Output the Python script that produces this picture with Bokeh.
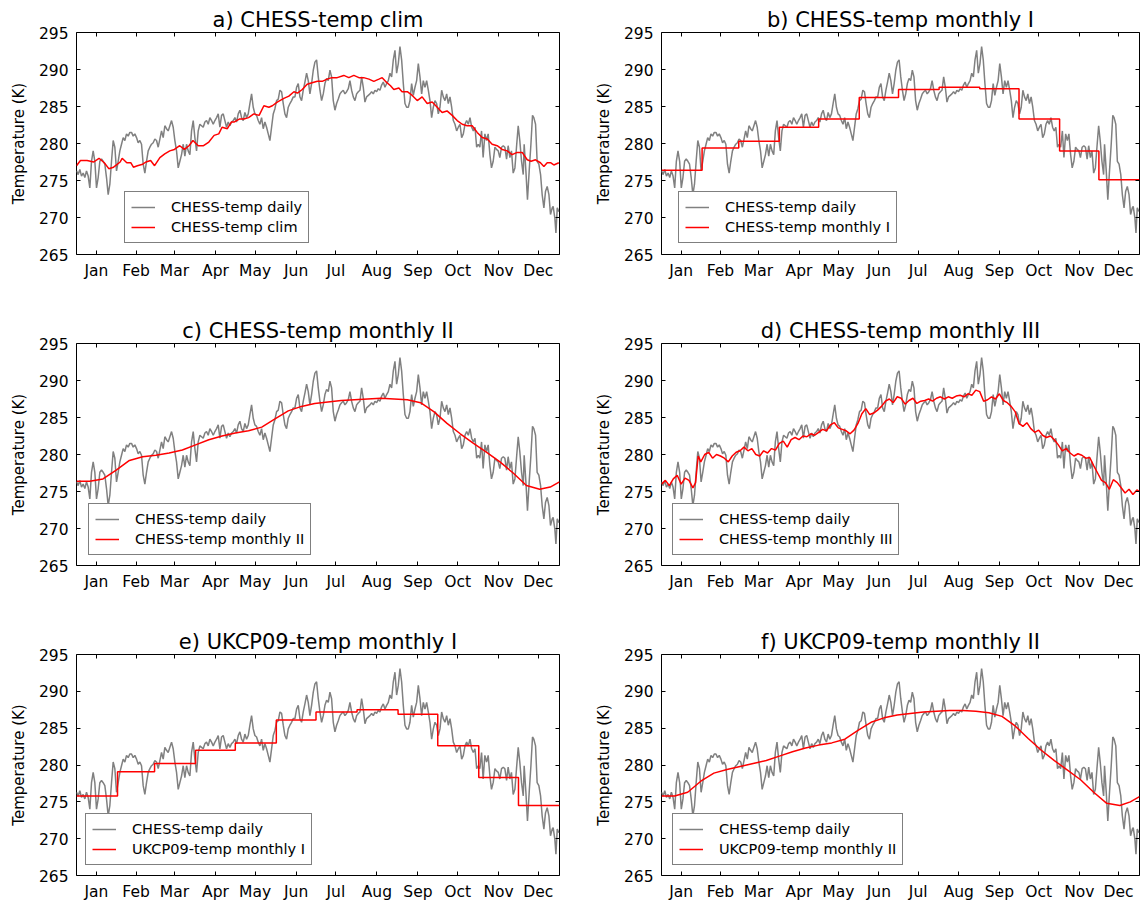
from bokeh.plotting import figure
from bokeh.layouts import column, row
from bokeh.models import Range1d, FixedTicker, LinearAxis, Legend, LegendItem
from bokeh.embed import file_html
from bokeh.resources import INLINE

FONT = "DejaVu Sans"

# ---------------- data ----------------
month_names = ["Jan", "Feb", "Mar", "Apr", "May", "Jun", "Jul", "Aug", "Sep", "Oct", "Nov", "Dec"]
month_ticks = [15, 45, 74, 105, 135, 166, 196, 227, 258, 288, 319, 349]
month_edges = [0, 31, 59, 90, 120, 151, 181, 212, 243, 273, 304, 334, 365]
y_ticks = [265, 270, 275, 280, 285, 290, 295]

# CHESS-temp daily, read every ~1.26 days from day 0 to ~301
READ_STEP_DAYS = 1.26
daily_temp_early = [
    276.3, 275.8, 276.5, 275.6, 276.0, 275.4, 276.3, 275.6, 274.0, 277.6, 279.0, 277.6,
    274.0, 275.4, 277.6, 277.9, 277.6, 277.2, 275.4, 273.1, 274.5, 277.6, 280.4, 279.5,
    276.3, 277.6, 279.0, 279.9, 280.8, 280.4, 281.3, 281.0, 281.5, 281.5, 281.0, 281.3,
    280.8, 280.1, 280.4, 279.9, 277.2, 276.0, 277.6, 279.0, 279.5, 279.9, 280.1, 280.6,
    280.4, 279.5, 280.6, 281.7, 280.8, 282.4, 282.0, 281.7, 282.4, 283.1, 282.2, 280.4,
    279.0, 276.7, 277.6, 278.5, 279.9, 278.3, 279.9, 279.0, 278.5, 281.7, 283.1, 280.8,
    279.0, 281.7, 282.6, 282.4, 282.2, 282.9, 283.1, 282.6, 283.5, 283.1, 282.6, 283.1,
    283.5, 284.0, 282.2, 283.8, 284.0, 283.1, 282.2, 282.9, 282.4, 282.9, 283.1, 283.5,
    282.9, 284.0, 284.5, 283.5, 283.1, 284.2, 283.5, 284.0, 285.4, 286.7, 284.9, 284.0,
    283.8, 283.1, 282.6, 283.5, 282.0, 282.9, 282.2, 281.3, 280.4, 282.2, 284.0, 284.7,
    285.8, 286.0, 287.2, 287.0, 285.4, 284.0, 283.5, 284.9, 285.4, 285.8, 286.3, 286.3,
    287.6, 288.1, 286.3, 285.8, 287.2, 288.3, 289.5, 288.5, 286.7, 288.1, 289.9, 291.0,
    291.3, 289.0, 287.2, 285.8, 286.7, 288.1, 288.8, 288.5, 289.9, 289.0, 285.8, 284.5,
    285.4, 286.0, 286.7, 287.0, 287.2, 286.7, 287.0, 287.4, 288.5, 287.2, 286.3, 285.8,
    286.7, 287.0, 287.2, 289.0, 287.6, 285.6, 286.3, 286.5, 286.7, 287.0, 286.7, 287.2,
    287.0, 287.4, 287.2, 287.9, 288.3, 287.6, 288.1, 288.5, 289.5, 289.0, 291.3, 292.6,
    289.5, 290.8, 293.1, 291.3, 288.1, 285.4, 284.9, 284.9, 285.8, 288.1, 286.5, 287.6,
    288.5, 290.8, 289.0, 286.7, 288.5, 287.6, 288.5, 287.2, 285.8, 283.5, 284.9, 285.8,
    285.4, 284.0, 284.9, 287.2, 286.3, 285.8, 286.7, 285.4, 286.3, 284.9, 283.1, 282.6,
    281.7, 282.2, 282.6, 280.8, 281.3, 282.6, 283.1, 282.6, 283.5, 282.2, 281.7, 282.2,
]
daily_day_late = [
    302.4, 303.6, 304.8, 306.1, 307.3, 308.6, 309.9, 311.1, 312.4, 313.6, 314.9, 316.2,
    317.4, 318.7, 319.9, 321.2, 322.5, 323.7, 325.0, 326.2, 327.5, 328.7, 330.0, 331.3,
    332.5, 333.8, 335.0, 336.3, 337.6, 338.3, 339.6, 340.8, 342.1, 343.4, 344.6, 345.6,
    346.9, 348.1, 349.4, 350.7, 351.9, 353.2, 354.4, 355.7, 357.0, 358.2, 359.5, 360.2,
    361.5, 362.3, 363.3, 364.5,
]
daily_temp_late = [
    279.5, 279.9, 279.5, 281.7, 278.1, 281.3, 280.4, 281.3, 278.5, 276.7, 277.6, 279.5,
    279.2, 279.0, 278.1, 279.5, 279.7, 279.5, 277.9, 279.7, 278.1, 279.0, 276.0, 276.7,
    279.5, 282.4, 280.4, 277.6, 275.8, 279.9, 276.3, 272.4, 276.3, 279.9, 283.8, 283.5,
    282.6, 277.6, 277.2, 275.8, 273.1, 271.3, 273.5, 274.2, 273.1, 270.4, 271.3, 271.5,
    269.9, 267.9, 271.3, 270.8,
]

# a) CHESS-temp clim
clim_day = [
    0, 3, 8, 13, 17, 21, 24.4, 28, 33, 34.5, 38, 41, 43, 46, 50, 52.5, 56, 59, 63, 66.7,
    70.5, 74, 78, 81.5, 85, 88, 92, 96, 100, 104, 107.5, 110, 114, 117, 119, 123, 126.5,
    130, 134, 138, 141.6, 145.4, 148, 151.7, 156.7, 160.5, 164.3, 167, 170.6, 174.3, 178,
    182, 185.7, 189.4, 193, 197, 202, 205.8, 209.6, 213.4, 217, 221, 224.7, 228.5, 231,
    233.5, 237.3, 239.8, 243.6, 246, 250, 253.7, 257.5, 261.2, 265, 268.8, 272.6, 276.3,
    280, 283.9, 287.7, 291.5, 295.2, 299, 302.8, 306.6, 310.4, 314.1, 317.9, 321.7, 325.5,
    329.2, 333, 336.8, 340.6, 343.5, 346.9, 350.6, 353.2, 355.7, 358.2, 360.7, 364.5,
]
clim_temp = [
    277.0, 277.7, 277.7, 277.5, 278.0, 277.4, 276.6, 276.8, 277.5, 278.0, 277.4, 277.4,
    276.8, 277.0, 277.2, 277.5, 277.7, 277.0, 278.1, 278.6, 279.0, 279.2, 279.7, 279.2,
    279.7, 280.4, 279.7, 279.7, 280.2, 281.1, 281.3, 282.2, 282.0, 282.9, 282.9, 283.3,
    283.3, 283.5, 284.0, 283.8, 285.1, 284.9, 285.1, 285.6, 286.1, 286.4, 287.0, 286.8,
    287.3, 288.0, 288.2, 288.4, 288.4, 288.7, 288.9, 288.9, 289.2, 288.9, 289.2, 288.9,
    288.9, 288.7, 288.4, 288.7, 288.9, 288.4, 287.8, 287.3, 287.5, 287.0, 287.0, 286.5,
    285.8, 286.3, 285.4, 285.6, 284.9, 284.2, 284.4, 283.8, 283.1, 282.6, 282.4, 282.4,
    281.5, 280.8, 280.6, 279.9, 279.7, 279.2, 279.0, 278.5, 278.8, 278.8, 277.8, 277.6,
    277.8, 277.4, 276.9, 277.4, 277.4, 277.1, 277.4,
]

# b) CHESS-temp monthly I (one value per month)
chess_monthly_1 = [276.4, 279.4, 280.3, 282.2, 283.3, 286.2, 287.3, 287.6, 287.4, 283.3, 279.0, 275.1]

# c) CHESS-temp monthly II
smooth_day = [0, 10, 20, 30, 40, 50, 60, 70, 80, 90, 100, 110, 120, 130, 140, 150, 160, 170,
              180, 190, 200, 210, 220, 230, 240, 250, 260, 270, 280, 290, 300, 310, 320, 330,
              340, 350, 358, 365]
chess_monthly_2 = [276.4, 276.4, 276.7, 277.9, 279.2, 279.7, 279.9, 280.2, 280.6, 281.3, 282.0,
                   282.5, 282.9, 283.2, 283.7, 284.8, 285.9, 286.5, 286.9, 287.1, 287.3, 287.4,
                   287.5, 287.6, 287.5, 287.4, 287.0, 285.8, 284.2, 282.8, 281.5, 280.3, 279.0,
                   277.5, 275.8, 275.3, 275.6, 276.3]

# d) CHESS-temp monthly III
m3_day = [0, 3, 6, 9, 12, 15, 18, 21, 24, 26, 28, 30, 33, 36, 39, 42, 45, 48, 51, 54, 57, 60,
          63, 66, 69, 72, 75, 78, 81, 84, 87, 90, 93, 96, 99, 102, 105, 108, 111, 114, 117, 120,
          123, 126, 129, 132, 135, 138, 141, 144, 147, 150, 153, 156, 159, 162, 165, 168, 171,
          174, 177, 180, 183, 186, 189, 192, 195, 198, 201, 204, 207, 210, 213, 216, 219, 222,
          225, 228, 231, 234, 237, 240, 243, 246, 249, 252, 255, 258, 261, 264, 267, 270, 273,
          276, 279, 282, 285, 288, 291, 294, 297, 300, 303, 306, 309, 312, 315, 318, 321, 324,
          327, 330, 333, 336, 339, 342, 345, 348, 351, 354, 357, 360, 363, 365]
chess_monthly_3 = [
    276.0, 276.5, 275.8, 276.7, 277.2, 276.0, 276.8, 276.5, 275.5, 276.2, 279.8, 279.0,
    280.0, 280.3, 279.5, 280.0, 279.8, 279.5, 279.0, 279.8, 280.3, 280.5, 281.0, 280.5,
    280.8, 280.0, 279.8, 280.5, 280.2, 280.8, 280.6, 281.5, 281.8, 281.0, 282.0, 282.3,
    282.0, 282.5, 282.4, 282.8, 282.6, 283.0, 283.4, 283.2, 284.0, 284.3, 283.6, 283.4,
    283.2, 282.8, 283.3, 284.2, 285.5, 286.2, 285.4, 285.6, 286.0, 286.5, 287.2, 287.5,
    287.0, 287.8, 287.6, 286.8, 287.3, 287.6, 286.9, 287.2, 287.3, 287.5, 287.2, 287.6,
    287.8, 287.5, 287.8, 287.6, 287.9, 288.0, 287.8, 288.2, 288.0, 288.7, 288.5, 287.2,
    287.4, 287.8, 287.5, 288.2, 287.3, 287.0, 286.5, 285.8, 284.2, 283.8, 284.3, 283.5,
    283.0, 283.3, 282.6, 282.3, 282.5, 282.0, 281.3, 280.5, 280.8, 280.2, 279.8, 280.1,
    279.9, 279.5, 279.6, 278.5, 277.5, 276.5, 276.2, 275.3, 276.6, 276.2, 275.5, 274.8,
    275.3, 274.6, 275.2, 275.0,
]

# e) UKCP09-temp monthly I
ukcp_monthly_1 = [275.8, 279.1, 280.2, 282.0, 283.0, 286.1, 287.2, 287.5, 286.9, 282.6, 278.3, 274.5]

# f) UKCP09-temp monthly II
ukcp_monthly_2 = [275.8, 275.8, 276.3, 277.8, 278.9, 279.4, 279.8, 280.2, 280.6, 281.2, 281.8,
                  282.3, 282.7, 283.0, 283.5, 284.7, 285.8, 286.4, 286.8, 287.0, 287.2, 287.3,
                  287.4, 287.4, 287.3, 287.1, 286.6, 285.3, 283.6, 282.0, 280.6, 279.3, 278.0,
                  276.3, 274.8, 274.5, 275.0, 275.7]

daily_day = [round(i * READ_STEP_DAYS, 2) for i in range(len(daily_temp_early))] + daily_day_late
daily_temp = daily_temp_early + daily_temp_late


def style_axis(ax, show_labels=True):
    ax.axis_line_color = None
    ax.major_tick_in = 4
    ax.major_tick_out = 0
    ax.major_tick_line_color = "black"
    ax.major_tick_line_width = 1
    ax.minor_tick_line_color = None
    ax.major_label_text_font = FONT
    if show_labels:
        ax.major_label_text_color = "black"
        ax.major_label_text_font_size = "15.5px"
    else:
        ax.major_label_text_color = None
        ax.major_label_text_font_size = "1px"
        ax.major_label_standoff = 0


def make_fig(title, red_label, red_x, red_y, step, legend_xy, width, left, right, height, bottom):
    p = figure(width=width, height=height, x_range=Range1d(0, 365), y_range=Range1d(265, 295),
               output_backend="svg", toolbar_location=None,
               min_border_left=left, min_border_right=right, min_border_top=32,
               min_border_bottom=bottom)
    p.grid.visible = False
    p.outline_line_color = "black"
    p.outline_line_width = 1
    p.background_fill_color = "white"
    p.border_fill_color = "white"

    p.title.text = title
    p.title.align = "center"
    p.title.text_font = FONT
    p.title.text_font_size = "21px"
    p.title.text_font_style = "normal"
    p.title.text_color = "black"
    p.title.standoff = 2

    xa = p.xaxis[0]
    ya = p.yaxis[0]
    style_axis(xa)
    style_axis(ya)
    xa.ticker = FixedTicker(ticks=month_ticks)
    xa.major_label_overrides = {t: m for t, m in zip(month_ticks, month_names)}
    xa.major_label_standoff = 7
    ya.ticker = FixedTicker(ticks=y_ticks)
    ya.major_label_standoff = 8
    ya.axis_label = "Temperature (K)"
    ya.axis_label_text_font = FONT
    ya.axis_label_text_font_size = "15px"
    ya.axis_label_text_font_style = "normal"
    ya.axis_label_text_color = "black"
    ya.axis_label_standoff = 8

    top = LinearAxis(ticker=FixedTicker(ticks=month_ticks))
    style_axis(top, show_labels=False)
    p.add_layout(top, "above")
    rgt = LinearAxis(ticker=FixedTicker(ticks=y_ticks))
    style_axis(rgt, show_labels=False)
    p.add_layout(rgt, "right")

    r1 = p.line(daily_day, daily_temp, line_color="#808080", line_width=1.5)
    if step:
        r2 = p.step(red_x, red_y, mode="after", line_color="#ff0000", line_width=1.5)
    else:
        r2 = p.line(red_x, red_y, line_color="#ff0000", line_width=1.5)

    legend = Legend(items=[LegendItem(label="CHESS-temp daily", renderers=[r1]),
                           LegendItem(label=red_label, renderers=[r2])],
                    location=legend_xy)
    legend.border_line_color = "black"
    legend.border_line_width = 1
    legend.background_fill_color = "white"
    legend.background_fill_alpha = 1.0
    legend.label_text_font = FONT
    legend.label_text_font_size = "14.5px"
    legend.label_text_color = "black"
    legend.glyph_width = 24
    legend.glyph_height = 18
    legend.label_height = 18
    legend.label_standoff = 16
    legend.spacing = 2
    legend.padding = 6
    legend.margin = 0
    p.add_layout(legend)
    return p


LW, LL, LR = 591, 76, 32
RW, RL, RR = 551, 65, 3
H12, B12 = 311, 57
H3, B3 = 281, 27

pa = make_fig("a) CHESS-temp clim", "CHESS-temp clim", clim_day, clim_temp, False, (48, 11),
              LW, LL, LR, H12, B12)
pb = make_fig("b) CHESS-temp monthly I", "CHESS-temp monthly I", month_edges,
              chess_monthly_1 + chess_monthly_1[-1:], True, (17, 11), RW, RL, RR, H12, B12)
pc = make_fig("c) CHESS-temp monthly II", "CHESS-temp monthly II", smooth_day, chess_monthly_2,
              False, (12, 10), LW, LL, LR, H12, B12)
pd_ = make_fig("d) CHESS-temp monthly III", "CHESS-temp monthly III", m3_day, chess_monthly_3,
               False, (11, 10), RW, RL, RR, H12, B12)
pe = make_fig("e) UKCP09-temp monthly I", "UKCP09-temp monthly I", month_edges,
              ukcp_monthly_1 + ukcp_monthly_1[-1:], True, (9, 10), LW, LL, LR, H3, B3)
pf = make_fig("f) UKCP09-temp monthly II", "UKCP09-temp monthly II", smooth_day, ukcp_monthly_2,
              False, (11, 10), RW, RL, RR, H3, B3)

layout = column(row(pa, pb), row(pc, pd_), row(pe, pf))
open("out.html", "w").write(file_html(layout, INLINE))
